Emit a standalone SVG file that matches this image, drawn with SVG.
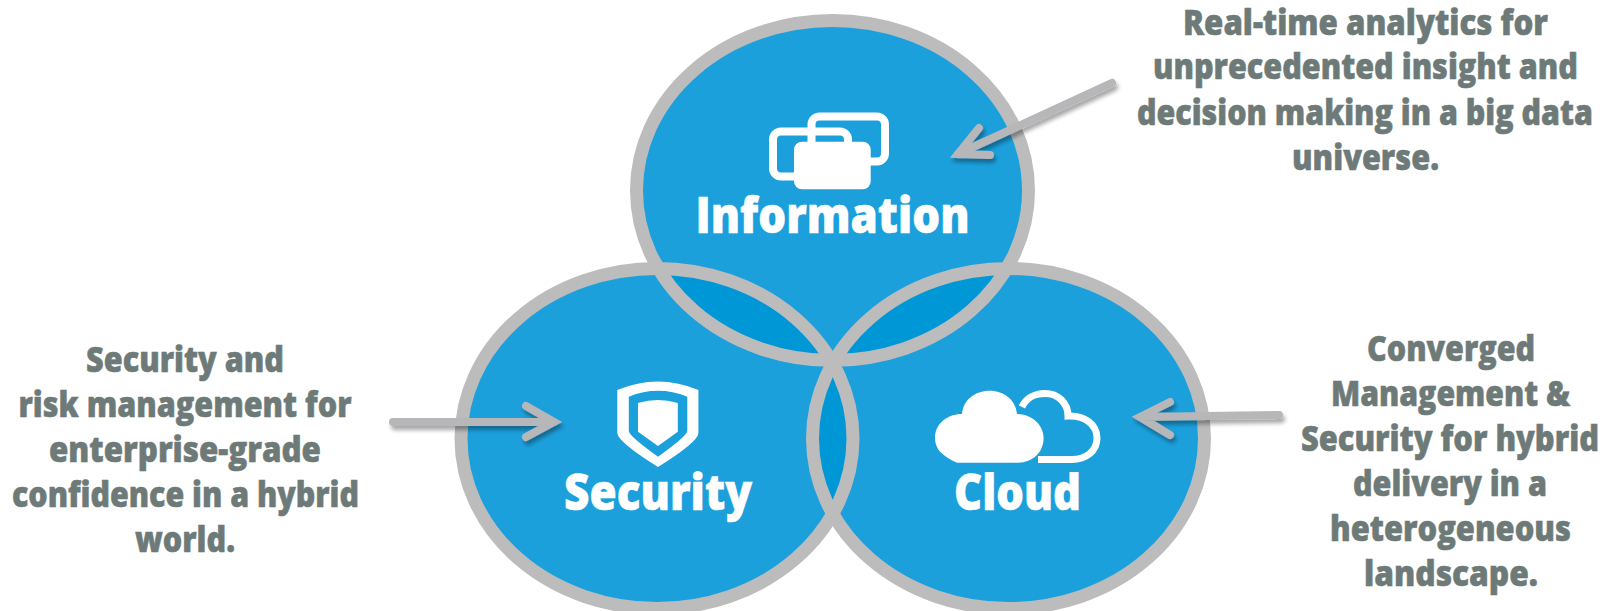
<svg xmlns="http://www.w3.org/2000/svg" width="1604" height="611" viewBox="0 0 1604 611">
<style>
.fill{fill:#1ca0dc}
.lap{fill:#0097d7}
.ring{fill:none;stroke:#bcbcbd;stroke-width:13}
.t{font-family:"Open Sans","Liberation Sans",sans-serif;font-weight:800;font-size:36px;fill:#6d7a78;stroke:#6d7a78;stroke-width:.6}
.l{font-family:"Open Sans","Liberation Sans",sans-serif;font-weight:800;font-size:50px;fill:#fff;stroke:#fff;stroke-width:.6}
.ico{fill:none;stroke:#fff;stroke-width:8}
.w{fill:#fff}
.arr{fill:none;stroke:#b7b7b9;stroke-width:8;stroke-linecap:round;stroke-linejoin:miter;filter:url(#sh)}
</style>
<defs>
<filter id="sh" x="-20%" y="-50%" width="140%" height="200%">
<feGaussianBlur in="SourceAlpha" stdDeviation="2"/>
<feOffset dx="2" dy="4"/>
<feComponentTransfer><feFuncA type="linear" slope="0.35"/></feComponentTransfer>
<feMerge><feMergeNode/><feMergeNode in="SourceGraphic"/></feMerge>
</filter>
<clipPath id="cI"><ellipse cx="832.5" cy="190.5" rx="196" ry="170"/></clipPath>
<clipPath id="cS"><ellipse cx="657" cy="438.5" rx="196" ry="170"/></clipPath>
</defs>
<g id="circles-base">
<ellipse class="fill" cx="832.5" cy="190.5" rx="196" ry="170"/>
<ellipse class="fill" cx="657" cy="438.5" rx="196" ry="170"/>
<ellipse class="fill" cx="1008.500" cy="438.5" rx="196" ry="170"/>
<ellipse class="lap" cx="657" cy="438.5" rx="196" ry="170" clip-path="url(#cI)"/>
<ellipse class="lap" cx="1008.500" cy="438.5" rx="196" ry="170" clip-path="url(#cI)"/>
<ellipse class="lap" cx="1008.500" cy="438.5" rx="196" ry="170" clip-path="url(#cS)"/>
<ellipse class="ring" cx="832.5" cy="190.5" rx="196" ry="170"/>
<ellipse class="ring" cx="657" cy="438.5" rx="196" ry="170"/>
<ellipse class="ring" cx="1008.500" cy="438.5" rx="196" ry="170"/>
</g>
<g id="information">
<rect class="ico" x="811.5" y="116.5" width="73.5" height="45" rx="8"/>
<rect class="ico" x="773" y="131.5" width="75" height="45" rx="8"/>
<rect class="w" x="794" y="141.7" width="76.7" height="47.6" rx="8"/>
<text class="l" x="695.5" y="233" textLength="274" lengthAdjust="spacingAndGlyphs">Information</text>
</g>
<g id="security">
<path class="w" fill-rule="evenodd" d="M617.3 390Q658 373 698.4 390V433Q698 442 658 467Q618 442 617.3 433ZM628.8 396.7V431Q629 436 658 456.7Q687 436 687.3 431V396.7Q658 385 628.8 396.7Z"/>
<path class="w" d="M638 403Q658 397 677.8 403V431.7L658 446L638 431.7Z"/>
<text class="l" x="564" y="510" textLength="188" lengthAdjust="spacingAndGlyphs">Security</text>
</g>
<g id="cloud">
<path class="w" d="M957 462.7C942 456 935 449 935 438C935 424 947 414 962 414C963 400 975 390.700 989.700 390.700C1004 390.700 1016 400 1017 414C1032 414 1043.600 425 1043.600 438C1043.600 452 1033 462.700 1018 462.700Z"/>
<path fill="none" stroke="#fff" stroke-width="7" d="M1022 407C1026 398 1035 393.500 1045 393.500C1058 393.500 1068 403 1068 416C1085 415 1097 425 1097 438C1097 451 1086 459.500 1072 459.500H1038"/>
<text class="l" x="954" y="510" textLength="127" lengthAdjust="spacingAndGlyphs">Cloud</text>
</g>
<g id="connectors">
<path class="arr" d="M1112 83L958 154M979 128L958 154L990 155"/>
<path class="arr" d="M393 422H554M526 406L554 422L526 437"/>
<path class="arr" d="M1279 415L1140 417M1170 402L1140 417L1170 435"/>
</g>
<g id="note-information" transform="scale(.75 1)">
<text class="t" x="1577.300" y="35" textLength="486.700" lengthAdjust="spacingAndGlyphs">Real-time analytics for</text>
<text class="t" x="1537.300" y="79" textLength="566.700" lengthAdjust="spacingAndGlyphs">unprecedented insight and</text>
<text class="t" x="1516" y="125" textLength="608" lengthAdjust="spacingAndGlyphs">decision making in a big data</text>
<text class="t" x="1722.700" y="170" textLength="196" lengthAdjust="spacingAndGlyphs">universe.</text>
</g>
<g id="note-security" transform="scale(.75 1)">
<text class="t" x="114.700" y="372" textLength="264" lengthAdjust="spacingAndGlyphs">Security and</text>
<text class="t" x="24.700" y="417" textLength="444" lengthAdjust="spacingAndGlyphs">risk management for</text>
<text class="t" x="65.300" y="462" textLength="362.700" lengthAdjust="spacingAndGlyphs">enterprise-grade</text>
<text class="t" x="16" y="507" textLength="462.700" lengthAdjust="spacingAndGlyphs">confidence in a hybrid</text>
<text class="t" x="180" y="552" textLength="133.300" lengthAdjust="spacingAndGlyphs">world.</text>
</g>
<g id="note-cloud" transform="scale(.75 1)">
<text class="t" x="1822.700" y="361" textLength="224" lengthAdjust="spacingAndGlyphs">Converged</text>
<text class="t" x="1774.700" y="406" textLength="318.700" lengthAdjust="spacingAndGlyphs">Management &amp;</text>
<text class="t" x="1734.700" y="451" textLength="397.300" lengthAdjust="spacingAndGlyphs">Security for hybrid</text>
<text class="t" x="1804" y="496" textLength="258.700" lengthAdjust="spacingAndGlyphs">delivery in a</text>
<text class="t" x="1773.300" y="541" textLength="321.300" lengthAdjust="spacingAndGlyphs">heterogeneous</text>
<text class="t" x="1818.700" y="586" textLength="232" lengthAdjust="spacingAndGlyphs">landscape.</text>
</g>
</svg>
